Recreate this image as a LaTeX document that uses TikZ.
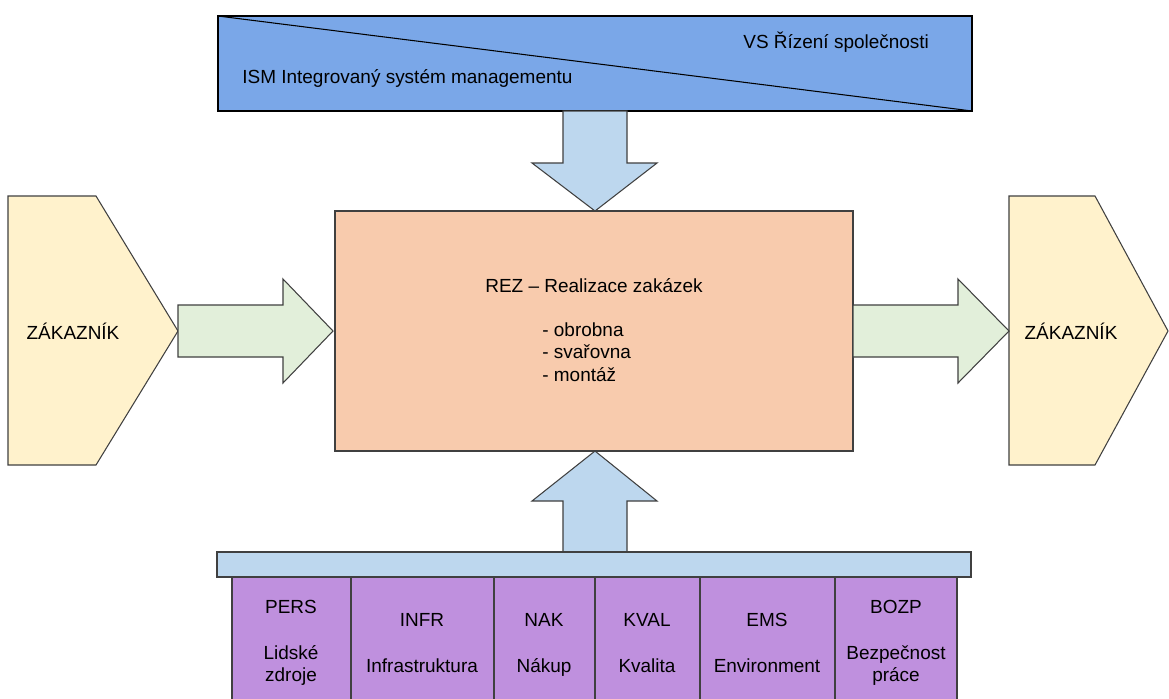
\documentclass[tikz,border=0pt]{standalone}
\usepackage{fontspec}
\setmainfont{Liberation Sans}
\definecolor{ismblue}{HTML}{7AA7E8}
\definecolor{arrowblue}{HTML}{BDD7EE}
\definecolor{rezpeach}{HTML}{F8CBAD}
\definecolor{flowgreen}{HTML}{E2EFDA}
\definecolor{custyellow}{HTML}{FFF2CC}
\definecolor{supviolet}{HTML}{BF90DE}
\begin{document}
\begin{tikzpicture}[x=0.02cm,y=-0.02cm,font=\fontsize{10.8}{13}\selectfont,
    outl/.style={draw=black!75,line width=0.6pt},
    lbl/.style={inner sep=0pt,text=black}]
  \clip (0,0) rectangle (1169,698);
  \fill[white] (0,0) rectangle (1169,698);
  \draw[outl,draw=black,fill=ismblue] (218,16) rectangle (972,111);
  \draw[black,line width=0.6pt] (218,16) -- (972,111);
  \node[lbl,anchor=west] (vs) at (743,42) {VS Řízení společnosti};
  \node[lbl,anchor=west] (ism) at (242,78) {ISM Integrovaný systém managementu};
  \draw[outl,fill=arrowblue] (563,111) -- (627,111) -- (627,163) -- (657,163)
    -- (595,211) -- (532,163) -- (563,163) -- cycle;
  \draw[outl,fill=rezpeach] (335,211) rectangle (853,451);
  \node[lbl] (rez) at (594,286) {REZ – Realizace zakázek};
  \node[lbl,anchor=north west,align=left] (ops) at (542,322) {- obrobna\\- svařovna\\- montáž};
  \draw[outl,fill=custyellow] (8,196) -- (96,196) -- (178,331) -- (96,465) -- (8,465) -- cycle;
  \node[lbl] (custin) at (73,331) {ZÁKAZNÍK};
  \draw[outl,fill=custyellow] (1009,196) -- (1095,196) -- (1168,331) -- (1095,465) -- (1009,465) -- cycle;
  \node[lbl] (custout) at (1071,331) {ZÁKAZNÍK};
  \draw[outl,fill=flowgreen] (178,305) -- (283,305) -- (283,279) -- (333,331)
    -- (283,383) -- (283,357) -- (178,357) -- cycle;
  \draw[outl,fill=flowgreen] (853,305) -- (958,305) -- (958,279) -- (1009,331)
    -- (958,383) -- (958,357) -- (853,357) -- cycle;
  \draw[outl,fill=arrowblue] (563,552) -- (563,501) -- (532,501) -- (595,451)
    -- (657,501) -- (627,501) -- (627,552) -- cycle;
  \draw[outl,fill=arrowblue] (217,552) rectangle (971,577);
  \draw[outl,fill=supviolet] (232,577) rectangle (957,720);
  \foreach \xd in {351,494,595,700,835}
    \draw[outl] (\xd,577) -- (\xd,720);
  \node[lbl,align=center] (pers) at (291,643) {PERS\\[13pt]Lidské\\zdroje};
  \node[lbl,align=center] (infr) at (422,643) {INFR\\[13pt]Infrastruktura};
  \node[lbl,align=center] (nak) at (544,645) {NAK\\[13pt]Nákup};
  \node[lbl,align=center] (kval) at (647,643) {KVAL\\[13pt]Kvalita};
  \node[lbl,align=center] (ems) at (767,643) {EMS\\[13pt]Environment};
  \node[lbl,align=center] (bozp) at (896,643) {BOZP\\[13pt]Bezpečnost\\práce};
\end{tikzpicture}
\end{document}
